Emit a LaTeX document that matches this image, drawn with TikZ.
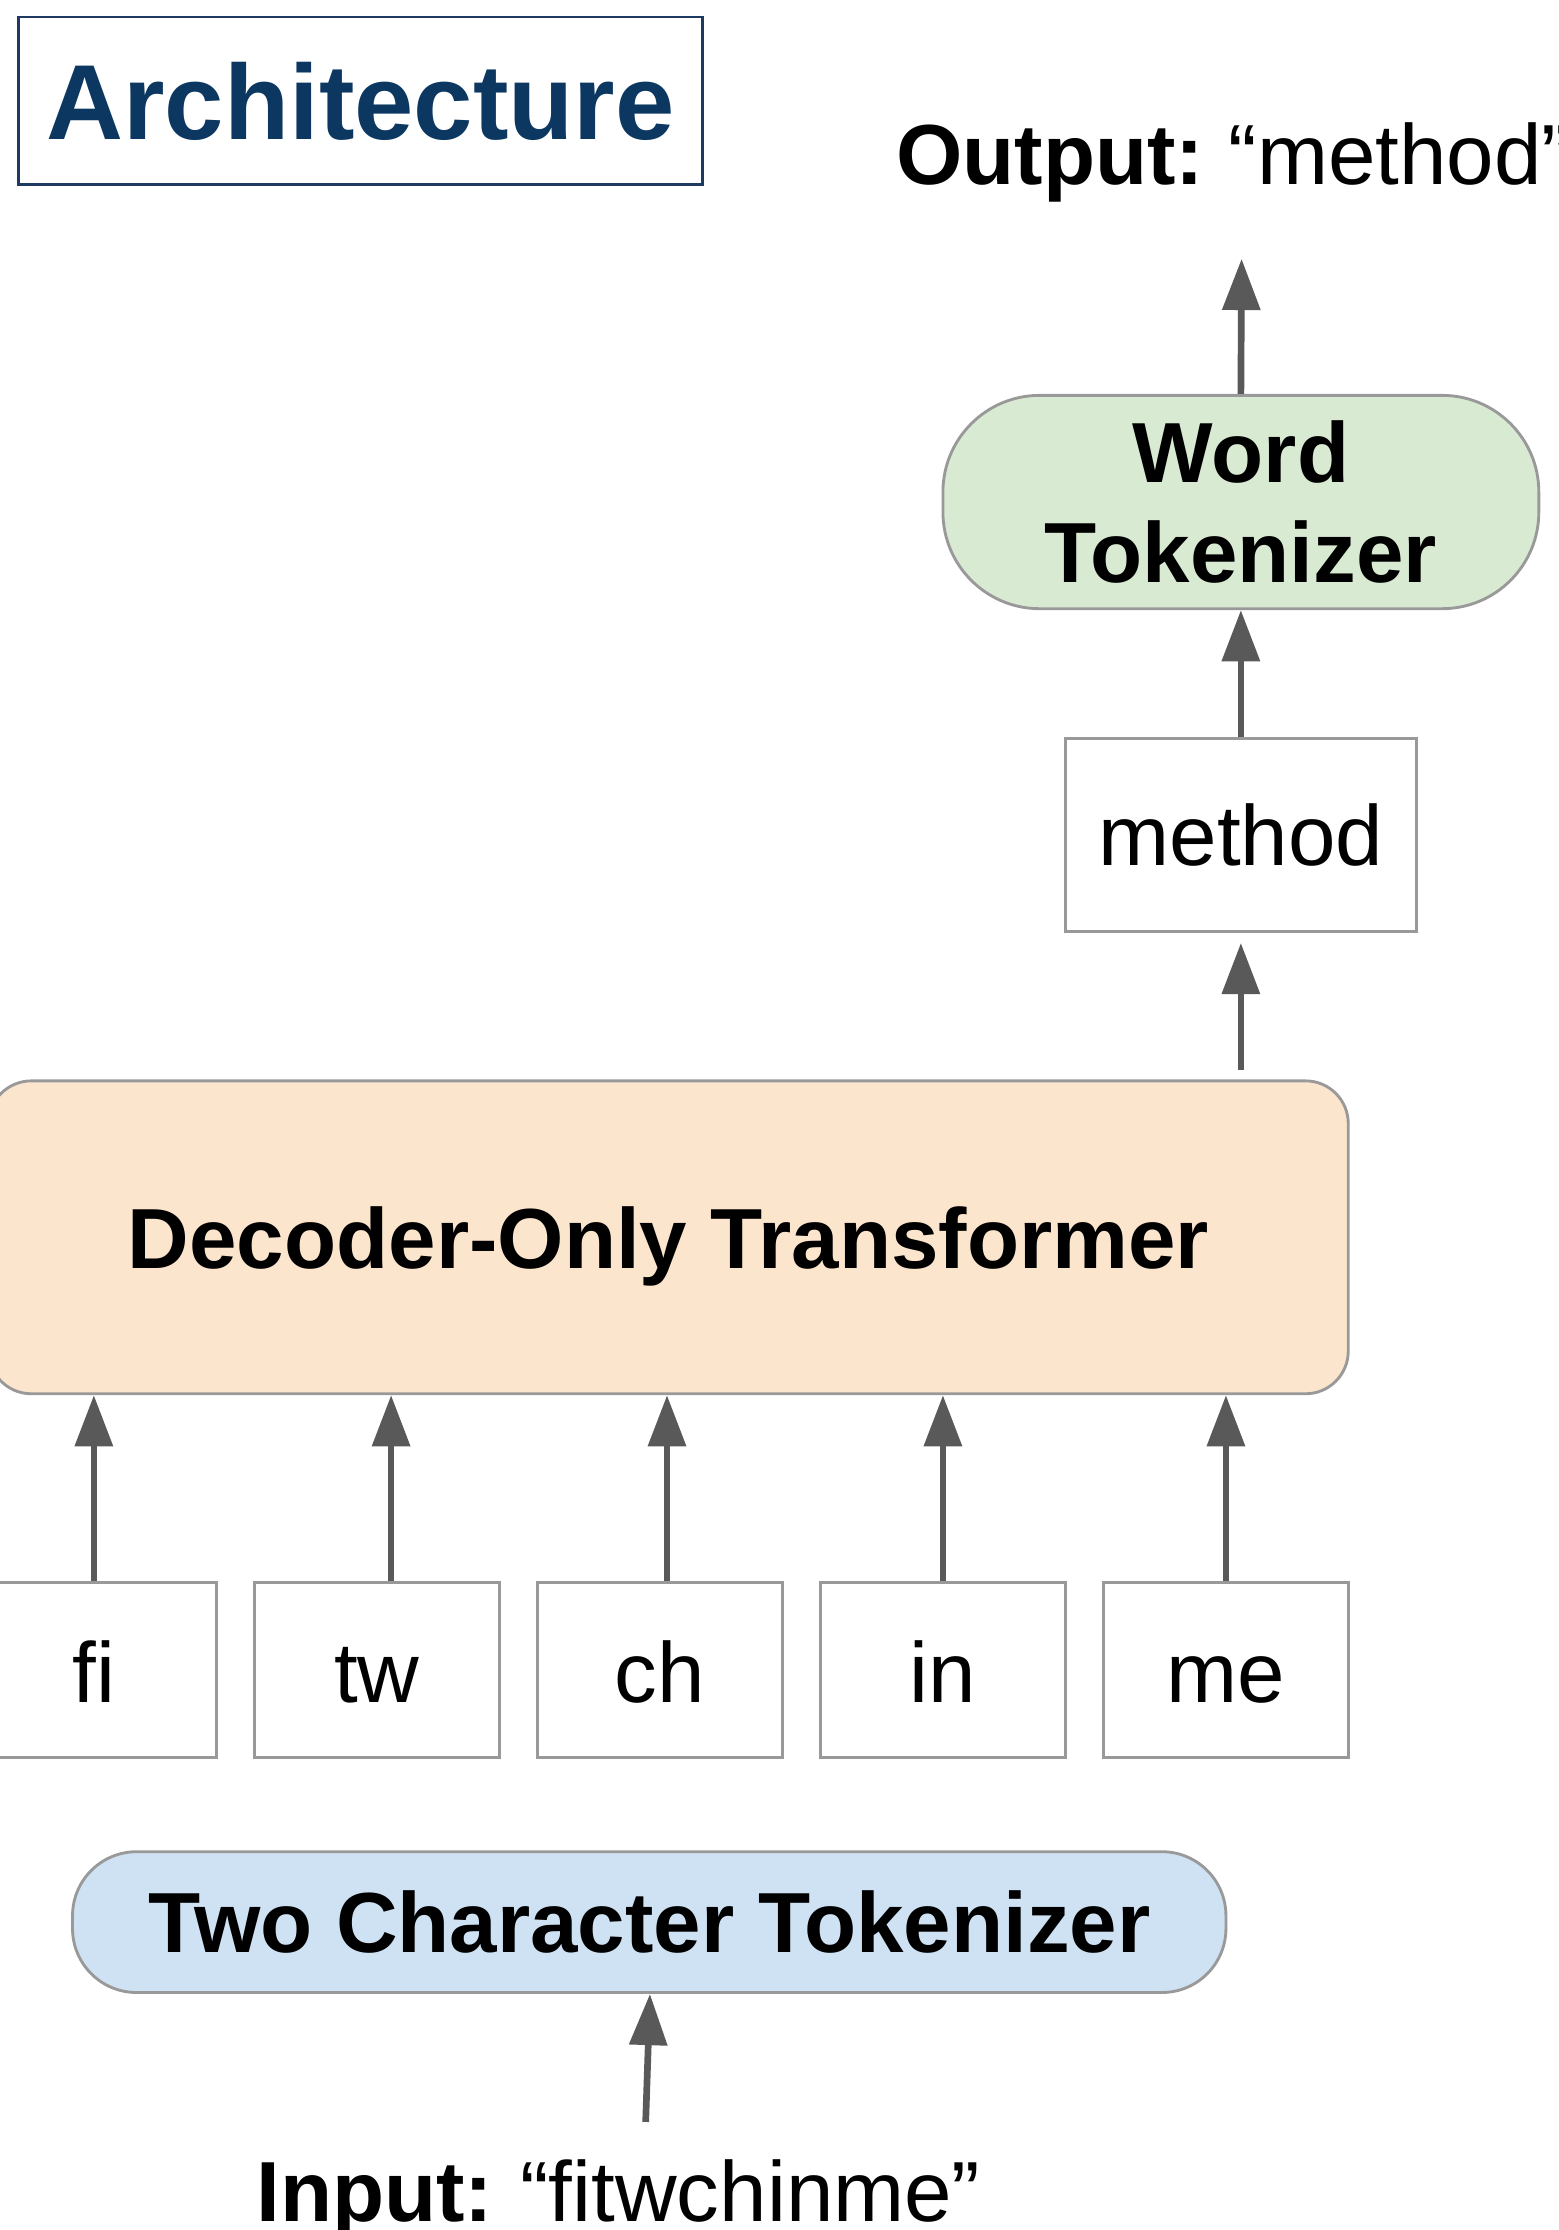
\documentclass[tikz,border=0pt]{standalone}
\usepackage{fontspec}
\setmainfont{Liberation Sans}
\usetikzlibrary{arrows.meta}
\definecolor{arrowgray}{HTML}{595959}
\definecolor{boxgray}{HTML}{999999}
\definecolor{navy}{HTML}{0B3761}
\definecolor{navyline}{HTML}{1F3A60}
\definecolor{greenfill}{HTML}{D9EAD3}
\definecolor{orangefill}{HTML}{FCE5CD}
\definecolor{bluefill}{HTML}{CFE2F3}
\begin{document}
\begin{tikzpicture}[x=1pt,y=-1pt,
  flow/.style={draw=arrowgray,line width=4.7pt,-{Triangle[length=36pt,width=26pt]}},
  bigtext/.style={font=\fontsize{60}{70}\selectfont},
  tokbox/.style={bigtext,draw=boxgray,line width=2pt,fill=white,minimum width=172pt,minimum height=123pt,inner sep=0pt,text height=45pt,text depth=0pt},
  pill/.style={draw=boxgray,line width=2pt,inner sep=0pt,align=center,font=\fontsize{60}{70}\selectfont\bfseries}
]
\clip (0,0) rectangle (1096,1568);
\fill[white] (0,0) rectangle (1096,1568);

% title
\node[draw=navyline,line width=2pt,minimum width=481pt,minimum height=118pt,inner sep=0pt,
  text=navy,font=\fontsize{75}{80}\selectfont\bfseries] (title) at (253.5,71) {Architecture};

% output label
\node[bigtext,anchor=base west,inner sep=0pt] (out) at (630,130) {\textbf{Output:} \kern-5pt“method”};
\coordinate (outtip) at (873,182);

% word tokenizer
\node[pill,fill=greenfill,minimum width=419pt,minimum height=150pt,rounded corners=68pt] (wt) at (872.5,353) {Word\\Tokenizer};

% method box
\node[bigtext,draw=boxgray,line width=2pt,fill=white,minimum width=247pt,minimum height=136pt,inner sep=0pt] (meth) at (872.5,587) {method};

% decoder
\node[pill,fill=orangefill,minimum width=956pt,minimum height=220pt,rounded corners=30pt,text depth=0pt] (dec) at (470,870) {Decoder-Only Transformer};

% tokens
\node[tokbox] (fi) at (66,1174.5) {fi};
\node[tokbox] (tw) at (265,1174.5) {tw};
\node[tokbox] (ch) at (464,1174.5) {ch};
\node[tokbox] (in) at (663,1174.5) {in};
\node[tokbox] (me) at (862,1174.5) {me};

% two character tokenizer
\node[pill,fill=bluefill,minimum width=811pt,minimum height=99pt,rounded corners=45pt] (tct) at (456.5,1351.5) {Two Character Tokenizer};

% input label
\node[bigtext,anchor=base west,inner sep=0pt] (inp) at (180,1562) {\textbf{Input:} \kern-3pt“fitwchinme”};
\coordinate (instart) at (454,1492);

% connectors
\draw[flow] (wt.north) -- (outtip);
\draw[flow] (meth.north) -- (wt.south);
\draw[flow,shorten <=7pt,shorten >=7pt] (meth.south |- dec.north) -- (meth.south);
\draw[flow] (fi.north) -- (fi.north |- dec.south);
\draw[flow] ([xshift=10pt]tw.north) -- ([xshift=10pt]tw.north |- dec.south);
\draw[flow] ([xshift=5pt]ch.north) -- ([xshift=5pt]ch.north |- dec.south);
\draw[flow] (in.north) -- (in.north |- dec.south);
\draw[flow] (me.north) -- (me.north |- dec.south);
\draw[flow] (instart) -- ([xshift=0.5pt]tct.south);
\end{tikzpicture}
\end{document}
